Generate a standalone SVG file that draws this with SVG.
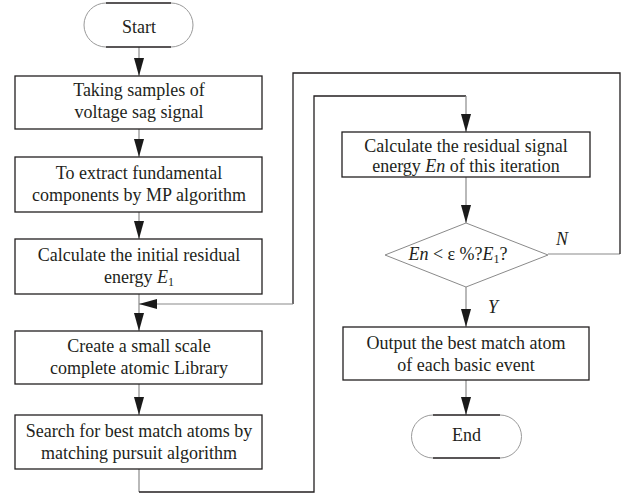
<svg xmlns="http://www.w3.org/2000/svg" width="623" height="494" viewBox="0 0 623 494">
<defs>
<style>
.box{fill:#fff;stroke:#231f20;stroke-width:1.3}
.flat{fill:none;stroke:#231f20;stroke-width:1.3}
.arc{fill:none;stroke:#9a9a9a;stroke-width:1}
.dia{fill:#fff;stroke:#8a8a8a;stroke-width:1}
.g{fill:none;stroke:#8a8a8a;stroke-width:1.2}
.k{fill:none;stroke:#231f20;stroke-width:1.3}
text{font-family:"Liberation Serif","Times New Roman",serif;font-size:18px;fill:#231f20;text-anchor:middle}
.it{font-style:italic}
</style>
<marker id="ah" markerWidth="18" markerHeight="10" refX="18" refY="5" orient="auto" markerUnits="userSpaceOnUse">
<path d="M0,0 L18,5 L0,10 z" fill="#1a1a1a"/>
</marker>
</defs>

<g id="connectors">
<path class="g" d="M139,47 V76" marker-end="url(#ah)"/>
<path class="g" d="M139,129 V157" marker-end="url(#ah)"/>
<path class="g" d="M139,212 V239" marker-end="url(#ah)"/>
<path class="g" d="M139,294 V331" marker-end="url(#ah)"/>
<path class="g" d="M139,384 V415" marker-end="url(#ah)"/>
<path class="g" d="M139,469 V492"/>
<path class="k" d="M139,492 H314 V96 H466"/>
<path class="g" d="M466,96 V132" marker-end="url(#ah)"/>
<path class="g" d="M466,177 V223" marker-end="url(#ah)"/>
<path class="g" d="M466,287 V327" marker-end="url(#ah)"/>
<path class="g" d="M466,380 V415" marker-end="url(#ah)"/>
<path class="g" d="M548,254 H620"/>
<path class="k" d="M620,254 V73 H293 V304"/>
<path class="g" d="M293,304 H139" marker-end="url(#ah)"/>
<text class="it" x="562" y="245">N</text>
<text class="it" x="493" y="313">Y</text>
</g>

<g id="start">
<path class="flat" d="M106,3 H171 M106,47 H171"/>
<path class="arc" d="M106,3 A22,22 0 0 0 106,47 M171,3 A22,22 0 0 1 171,47"/>
<text x="139" y="33">Start</text>
</g>

<g id="sampling">
<rect class="box" x="15" y="76" width="247" height="53"/>
<text x="139" y="96">Taking samples of</text>
<text x="139" y="118">voltage sag signal</text>
</g>

<g id="extract">
<rect class="box" x="15" y="157" width="247" height="55"/>
<text x="139" y="179">To extract fundamental</text>
<text x="139" y="201">components by MP algorithm</text>
</g>

<g id="initial-energy">
<rect class="box" x="15" y="239" width="247" height="55"/>
<text x="139" y="261">Calculate the initial residual</text>
<text x="139" y="283">energy <tspan class="it">E</tspan><tspan font-size="12" dy="3">1</tspan></text>
</g>

<g id="library">
<rect class="box" x="15" y="331" width="247" height="53"/>
<text x="139" y="352">Create a small scale</text>
<text x="139" y="374">complete atomic Library</text>
</g>

<g id="search">
<rect class="box" x="15" y="415" width="247" height="54"/>
<text x="139" y="437">Search for best match atoms by</text>
<text x="139" y="459">matching pursuit algorithm</text>
</g>

<g id="residual-energy">
<rect class="box" x="342" y="132" width="248" height="45"/>
<text x="466" y="152">Calculate the residual signal</text>
<text x="466" y="172">energy <tspan class="it">En</tspan> of this iteration</text>
</g>

<g id="decision">
<polygon class="dia" points="466,223 548,255 466,287 385,255"/>
<text x="458" y="260"><tspan class="it">En</tspan> &lt; ε %?<tspan class="it">E</tspan><tspan font-size="12" dy="3">1</tspan><tspan dy="-3">?</tspan></text>
</g>

<g id="output">
<rect class="box" x="343" y="327" width="246" height="53"/>
<text x="466" y="349">Output the best match atom</text>
<text x="466" y="371">of each basic event</text>
</g>

<g id="end">
<path class="flat" d="M433,415 H500 M433,458 H500"/>
<path class="arc" d="M433,415 A21.5,21.5 0 0 0 433,458 M500,415 A21.5,21.5 0 0 1 500,458"/>
<text x="466.5" y="441">End</text>
</g>
</svg>
